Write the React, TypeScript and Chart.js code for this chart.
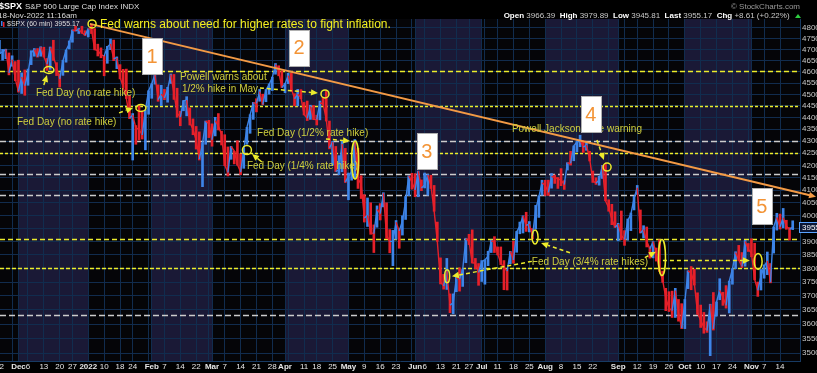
import React, { useEffect, useRef } from 'react';
import { Chart, registerables } from 'chart.js';

Chart.register(...registerables);

const FONT = '"Liberation Sans", Arial, Helvetica, sans-serif';
const BLUE = '#3d84e8';
const RED = '#e6202a';
const YELLOW = '#ecec2c';
const OLIVE = '#cfcf3e';
const GRAYLINE = '#cccccc';
const GRID = '#112c4e';
const W = 817;
const H = 373;

// ---- calendar ----
const FIRST_DAY = '2021-11-22';
const LAST_DAY = '2022-11-18';
const holidays = ['2021-11-25', '2021-12-24', '2022-01-17', '2022-02-21', '2022-04-15', '2022-05-30', '2022-06-20', '2022-07-04', '2022-09-05'];

// ---- price data (one value per trading day) ----
const closes = [
  4682, 4690, 4701, 4595, 4655, 4567,
  4513, 4577, 4538, 4592, 4686, 4701, 4667, 4712, 4669, 4634, 4710, 4669, 4621, 4568, 4649, 4697, 4726, 4791, 4786, 4793, 4778, 4766,
  4797, 4794, 4701, 4696, 4677, 4670, 4713, 4726, 4659, 4663, 4577, 4533, 4483, 4398, 4410, 4356, 4350, 4326, 4432, 4516,
  4546, 4589, 4477, 4501, 4484, 4522, 4587, 4504, 4419, 4402, 4472, 4475, 4380, 4349, 4305, 4226, 4289, 4385, 4374,
  4306, 4387, 4363, 4329, 4201, 4171, 4278, 4260, 4204, 4173, 4262, 4358, 4412, 4463, 4461, 4512, 4456, 4520, 4543, 4575, 4632, 4602, 4530,
  4546, 4583, 4525, 4481, 4500, 4488, 4413, 4397, 4447, 4392, 4391, 4463, 4459, 4393, 4272, 4296, 4175, 4183, 4288, 4132,
  4155, 4175, 4300, 4147, 4123, 3991, 4001, 3935, 3930, 4024, 4008, 4088, 3923, 3901, 3901, 3974, 3941, 3979, 4058, 4158, 4132,
  4101, 4177, 4109, 4121, 4161, 4116, 4018, 3901, 3750, 3735, 3790, 3667, 3675, 3765, 3760, 3796, 3912, 3900, 3821, 3819, 3785,
  3825, 3831, 3845, 3903, 3899, 3855, 3819, 3802, 3790, 3863, 3831, 3937, 3959, 3999, 3962, 3967, 3921, 4024, 4073, 4130,
  4119, 4091, 4155, 4152, 4145, 4140, 4122, 4210, 4208, 4280, 4297, 4305, 4275, 4284, 4228, 4138, 4128, 4141, 4199, 4058, 4031, 3986, 3955,
  3967, 3924, 3908, 3980, 4006, 4067, 4110, 3933, 3946, 3901, 3873, 3900, 3856, 3790, 3758, 3693, 3655, 3647, 3719, 3640, 3586,
  3678, 3791, 3783, 3745, 3640, 3612, 3589, 3577, 3670, 3583, 3678, 3720, 3695, 3666, 3753, 3797, 3859, 3831, 3807, 3901, 3872,
  3856, 3760, 3720, 3771, 3807, 3828, 3749, 3956, 3993, 3957, 3992, 3959, 3947, 3955.17,
];
const highs = [
  4743, 4701, 4702, 4685, 4672, 4646,
  4652, 4595, 4608, 4612, 4695, 4705, 4705, 4713, 4711, 4660, 4712, 4743, 4641, 4591, 4651, 4698, 4740, 4791, 4808, 4798, 4808, 4787,
  4796, 4818, 4797, 4725, 4708, 4673, 4715, 4749, 4744, 4667, 4632, 4611, 4612, 4494, 4417, 4366, 4453, 4428, 4432, 4516,
  4546, 4595, 4542, 4540, 4522, 4531, 4590, 4588, 4527, 4427, 4473, 4490, 4441, 4394, 4362, 4339, 4294, 4385, 4388,
  4373, 4401, 4417, 4342, 4327, 4276, 4278, 4258, 4302, 4247, 4271, 4358, 4412, 4465, 4481, 4522, 4501, 4521, 4546, 4576, 4637, 4627, 4604,
  4549, 4593, 4593, 4503, 4522, 4521, 4465, 4471, 4453, 4452, 4410, 4471, 4488, 4513, 4385, 4299, 4278, 4240, 4300, 4270,
  4169, 4200, 4307, 4270, 4158, 4082, 4069, 4050, 3964, 4038, 4047, 4090, 4050, 3946, 3943, 3981, 3950, 3999, 4075, 4158, 4168,
  4166, 4177, 4141, 4169, 4164, 4160, 4119, 3975, 3839, 3778, 3837, 3707, 3707, 3779, 3802, 3797, 3913, 3928, 3945, 3837, 3818,
  3829, 3832, 3864, 3906, 3919, 3880, 3880, 3829, 3796, 3863, 3902, 3939, 3975, 3999, 4013, 3977, 3950, 4040, 4078, 4140,
  4140, 4140, 4167, 4161, 4151, 4187, 4138, 4211, 4258, 4280, 4301, 4325, 4302, 4293, 4258, 4177, 4150, 4156, 4200, 4204, 4062, 4044, 4015,
  3970, 4018, 3942, 3987, 4010, 4076, 4119, 4022, 3961, 3956, 3880, 3900, 3876, 3907, 3790, 3727, 3715, 3717, 3727, 3687, 3672,
  3687, 3791, 3807, 3797, 3711, 3667, 3641, 3608, 3670, 3712, 3678, 3762, 3713, 3737, 3753, 3799, 3862, 3886, 3859, 3905, 3893,
  3911, 3894, 3750, 3796, 3813, 3861, 3818, 3956, 4009, 4006, 4028, 3982, 3954, 3979.89,
];
const lows = [
  4682, 4652, 4659, 4586, 4625, 4560,
  4510, 4504, 4496, 4540, 4632, 4670, 4666, 4670, 4667, 4606, 4611, 4651, 4583, 4532, 4584, 4643, 4703, 4734, 4786, 4774, 4775, 4765,
  4758, 4774, 4699, 4671, 4663, 4582, 4638, 4700, 4650, 4614, 4568, 4530, 4482, 4395, 4222, 4287, 4305, 4309, 4264, 4414,
  4483, 4545, 4470, 4451, 4477, 4466, 4548, 4478, 4401, 4365, 4429, 4407, 4368, 4327, 4267, 4222, 4114, 4287, 4315,
  4279, 4322, 4347, 4284, 4199, 4157, 4225, 4206, 4201, 4162, 4188, 4287, 4333, 4392, 4424, 4470, 4455, 4468, 4501, 4517, 4589, 4582, 4530,
  4507, 4547, 4514, 4450, 4450, 4481, 4411, 4387, 4392, 4391, 4368, 4390, 4453, 4385, 4268, 4201, 4175, 4162, 4174, 4131,
  4062, 4140, 4146, 4107, 4067, 3975, 3958, 3928, 3859, 3955, 3983, 4034, 3912, 3858, 3810, 3909, 3875, 3925, 3985, 4078, 4104,
  4074, 4074, 4098, 4109, 4080, 4107, 4017, 3901, 3743, 3724, 3723, 3640, 3636, 3715, 3717, 3734, 3821, 3889, 3820, 3799, 3738,
  3752, 3742, 3810, 3859, 3859, 3850, 3814, 3722, 3721, 3817, 3819, 3860, 3930, 3933, 3939, 3937, 3910, 3948, 3993, 4080,
  4079, 4079, 4108, 4127, 4107, 4118, 4103, 4181, 4201, 4219, 4256, 4277, 4253, 4262, 4218, 4131, 4123, 4120, 4147, 4058, 4017, 3965, 3954,
  3903, 3907, 3886, 3906, 3942, 4022, 4083, 3933, 3914, 3880, 3838, 3839, 3827, 3789, 3749, 3647, 3644, 3623, 3623, 3610, 3584,
  3584, 3726, 3722, 3739, 3634, 3588, 3568, 3571, 3491, 3579, 3628, 3686, 3666, 3656, 3639, 3742, 3799, 3829, 3803, 3808, 3863,
  3843, 3758, 3698, 3721, 3764, 3777, 3747, 3857, 3944, 3948, 3953, 3947, 3906, 3945.81,
];

// ---- axes ----
const yTickValues = [3500, 3550, 3600, 3650, 3700, 3750, 3800, 3850, 3900, 3950, 4000, 4050, 4100, 4150, 4200, 4250, 4300, 4350, 4400, 4450, 4500, 4550, 4600, 4650, 4700, 4750, 4800];
const xTickLabels: [string, string][] = [
  ['2021-11-22', '22'], ['2021-12-01', 'Dec'], ['2021-12-06', '6'], ['2021-12-13', '13'], ['2021-12-20', '20'], ['2021-12-27', '27'],
  ['2022-01-03', '2022'], ['2022-01-10', '10'], ['2022-01-18', '18'], ['2022-01-24', '24'],
  ['2022-02-01', 'Feb'], ['2022-02-07', '7'], ['2022-02-14', '14'], ['2022-02-22', '22'],
  ['2022-03-01', 'Mar'], ['2022-03-07', '7'], ['2022-03-14', '14'], ['2022-03-21', '21'], ['2022-03-28', '28'],
  ['2022-04-01', 'Apr'], ['2022-04-11', '11'], ['2022-04-18', '18'], ['2022-04-25', '25'],
  ['2022-05-02', 'May'], ['2022-05-09', '9'], ['2022-05-16', '16'], ['2022-05-23', '23'],
  ['2022-06-01', 'Jun'], ['2022-06-06', '6'], ['2022-06-13', '13'], ['2022-06-21', '21'], ['2022-06-27', '27'],
  ['2022-07-01', 'Jul'], ['2022-07-11', '11'], ['2022-07-18', '18'], ['2022-07-25', '25'],
  ['2022-08-01', 'Aug'], ['2022-08-08', '8'], ['2022-08-15', '15'], ['2022-08-22', '22'],
  ['2022-09-01', 'Sep'], ['2022-09-12', '12'], ['2022-09-19', '19'], ['2022-09-26', '26'],
  ['2022-10-03', 'Oct'], ['2022-10-10', '10'], ['2022-10-17', '17'], ['2022-10-24', '24'],
  ['2022-11-01', 'Nov'], ['2022-11-07', '7'], ['2022-11-14', '14'],
];
const boldLabels = ['Dec', '2022', 'Feb', 'Mar', 'Apr', 'May', 'Jun', 'Jul', 'Aug', 'Sep', 'Oct', 'Nov'];
const shadedMonths = ['2021-12', '2022-02', '2022-04', '2022-06', '2022-08', '2022-10'];

// ---- header ----
const quoteFields: [string, string][] = [['Open', '3966.39'], ['High', '3979.89'], ['Low', '3945.81'], ['Last', '3955.17'], ['Chg', '+8.61 (+0.22%)']];

// ---- annotations (x in trading-day index, y in index points) ----
const levels = [
  { value: 4605, color: YELLOW, dash: [5, 3] },
  { value: 4450, color: YELLOW, dash: [3, 2] },
  { value: 4300, color: GRAYLINE, dash: [6, 3] },
  { value: 4250, color: YELLOW, dash: [3, 2] },
  { value: 4163, color: GRAYLINE, dash: [6, 3] },
  { value: 4081, color: GRAYLINE, dash: [6, 3] },
  { value: 3911, color: YELLOW, dash: [5, 3] },
  { value: 3800, color: YELLOW, dash: [4, 2] },
  { value: 3632, color: GRAYLINE, dash: [6, 3] },
];
const trendFrom = [28.5, 4819];
const trendTo = [256.4, 4077];
const notes = [
  { text: 'Fed warns about need for higher rates to fight inflation.', i: 31.7, v: 4814, size: 12, color: '#f4f020' },
  { text: 'Fed Day (no rate hike)', i: 11.5, v: 4506, size: 10, color: OLIVE },
  { text: 'Fed Day (no rate hike)', i: 5.5, v: 4381, size: 10, color: OLIVE },
  { text: 'Powell warns about', i: 56.9, v: 4577, size: 10, color: OLIVE },
  { text: '1/2% hike in May', i: 57.5, v: 4524, size: 10, color: OLIVE },
  { text: 'Fed Day (1/2% rate hike)', i: 81.2, v: 4334, size: 10, color: OLIVE },
  { text: 'Fed Day (1/4% rate hike)', i: 78.0, v: 4198, size: 10, color: OLIVE },
  { text: 'Powell Jackson Hole warning', i: 161.5, v: 4351, size: 10, color: OLIVE },
  { text: 'Fed Day (3/4% rate hikes)', i: 167.8, v: 3822, size: 10, color: OLIVE },
];
const numberBoxes = [
  { label: '1', i: 48.1, v: 4671 },
  { label: '2', i: 94.4, v: 4708 },
  { label: '3', i: 134.7, v: 4259 },
  { label: '4', i: 186.4, v: 4415 },
  { label: '5', i: 240.3, v: 4037 },
];
const rings = [
  { i: 29.2, v: 4819, rx: 4, ry: 4 },
  { i: 15.6, v: 4608, rx: 5, ry: 3.5 },
  { i: 44.6, v: 4441, rx: 5, ry: 3.5 },
  { i: 78.0, v: 4263, rx: 4.5, ry: 4.5 },
  { i: 102.6, v: 4502, rx: 4, ry: 4 },
  { i: 112.1, v: 4222, rx: 3.5, ry: 19 },
  { i: 141.1, v: 3771, rx: 2.5, ry: 6.5 },
  { i: 168.8, v: 3918, rx: 3, ry: 7 },
  { i: 191.5, v: 4193, rx: 4, ry: 4 },
  { i: 208.8, v: 3840, rx: 3.5, ry: 18 },
  { i: 239.1, v: 3826, rx: 4, ry: 8 },
];
const arrows = [
  { from: [14.0, 4541], to: [15.0, 4586], dashed: false },
  { from: [37.7, 4420], to: [42.1, 4441], dashed: true },
  { from: [82.7, 4214], to: [79.6, 4247], dashed: false },
  { from: [82.1, 4528], to: [100.4, 4506], dashed: true },
  { from: [102.9, 4309], to: [110.5, 4301], dashed: true },
  { from: [167.8, 3826], to: [142.6, 3771], dashed: true },
  { from: [179.8, 3858], to: [170.7, 3895], dashed: true },
  { from: [188.3, 4305], to: [190.5, 4222], dashed: true },
  { from: [203.4, 3840], to: [206.9, 3862], dashed: true },
  { from: [209.1, 3829], to: [236.5, 3829], dashed: true },
];

function tradingDays(): string[] {
  const out: string[] = [];
  const d = new Date(FIRST_DAY + 'T12:00:00Z');
  const end = new Date(LAST_DAY + 'T12:00:00Z');
  while (d <= end) {
    const dow = d.getUTCDay();
    const s = d.toISOString().slice(0, 10);
    if (dow !== 0 && dow !== 6 && !holidays.includes(s)) out.push(s);
    d.setUTCDate(d.getUTCDate() + 1);
  }
  return out;
}

function drawArrow(ctx: CanvasRenderingContext2D, x1: number, y1: number, x2: number, y2: number, dashed: boolean) {
  const ang = Math.atan2(y2 - y1, x2 - x1);
  const L = 7;
  const hw = 3.2;
  const bx = x2 - L * Math.cos(ang);
  const by = y2 - L * Math.sin(ang);
  ctx.setLineDash(dashed ? [4, 3] : []);
  ctx.beginPath();
  ctx.moveTo(x1, y1);
  ctx.lineTo(bx, by);
  ctx.stroke();
  ctx.setLineDash([]);
  ctx.beginPath();
  ctx.moveTo(x2, y2);
  ctx.lineTo(bx + hw * Math.sin(ang), by - hw * Math.cos(ang));
  ctx.lineTo(bx - hw * Math.sin(ang), by + hw * Math.cos(ang));
  ctx.closePath();
  ctx.fill();
}

export default function App() {
  const ref = useRef<HTMLCanvasElement>(null);

  useEffect(() => {
    document.body.style.margin = '0';
    const days = tradingDays();
    const labelMap = new Map<number, string>();
    xTickLabels.forEach(([d, l]) => {
      const i = days.indexOf(d);
      if (i >= 0) labelMap.set(i, l);
    });
    const gridIdx: number[] = [];
    days.forEach((d, i) => {
      if (i === 0) { gridIdx.push(0); return; }
      const prev = new Date(days[i - 1] + 'T12:00:00Z');
      const cur = new Date(d + 'T12:00:00Z');
      const newWeek = cur.getUTCDay() < prev.getUTCDay() || cur.getTime() - prev.getTime() > 4 * 86400000;
      const newMonth = d.slice(0, 7) !== days[i - 1].slice(0, 7);
      if (newWeek || newMonth || labelMap.has(i)) gridIdx.push(i);
    });
    const bands = shadedMonths.map((m) => {
      const s = days.findIndex((d) => d.startsWith(m));
      let e = days.findIndex((d, i) => i > s && !d.startsWith(m));
      if (e < 0) e = days.length;
      return [s, e];
    });

    const barColors = closes.map((c, i) => (i === 0 || c >= closes[i - 1] ? BLUE : RED));

    const bgPlugin = {
      id: 'bgBands',
      beforeDraw(chart: any) {
        const { ctx, chartArea: a, scales } = chart;
        ctx.save();
        ctx.fillStyle = '#000000';
        ctx.fillRect(0, 0, chart.width, chart.height);
        ctx.fillStyle = '#050508';
        ctx.fillRect(a.left, a.top, a.right - a.left, a.bottom - a.top);
        ctx.fillStyle = '#1a1936';
        for (const [s, e] of bands) {
          const x1 = Math.max(a.left, scales.x.getPixelForValue(s));
          const x2 = Math.min(a.right, scales.x.getPixelForValue(e));
          if (x2 > x1) ctx.fillRect(x1, a.top, x2 - x1, a.bottom - a.top);
        }
        ctx.restore();
      },
      beforeDatasetsDraw(chart: any) {
        const { ctx, chartArea: a, scales } = chart;
        ctx.save();
        ctx.lineWidth = 1.5;
        for (const l of levels) {
          const y = Math.round(scales.y.getPixelForValue(l.value)) + 0.5;
          ctx.strokeStyle = l.color;
          ctx.setLineDash(l.dash);
          ctx.beginPath();
          ctx.moveTo(a.left, y);
          ctx.lineTo(a.right, y);
          ctx.stroke();
        }
        ctx.restore();
      },
      afterDatasetsDraw(chart: any) {
        const { ctx, scales } = chart;
        const px = (i: number) => scales.x.getPixelForValue(i);
        const py = (v: number) => scales.y.getPixelForValue(v);
        ctx.save();
        // trend line
        ctx.strokeStyle = '#f39a45';
        ctx.fillStyle = '#f39a45';
        ctx.lineWidth = 2;
        const tx1 = px(trendFrom[0]), ty1 = py(trendFrom[1]);
        const tx2 = px(trendTo[0]), ty2 = py(trendTo[1]);
        ctx.beginPath();
        ctx.moveTo(tx1, ty1);
        ctx.lineTo(tx2, ty2);
        ctx.stroke();
        ctx.lineWidth = 1;
        drawArrow(ctx, tx2 - 10, ty2 - 10 * (ty2 - ty1) / (tx2 - tx1), tx2 + 3, ty2 + 3 * (ty2 - ty1) / (tx2 - tx1), false);
        // rings
        ctx.strokeStyle = YELLOW;
        ctx.lineWidth = 1.5;
        for (const r of rings) {
          ctx.beginPath();
          ctx.ellipse(px(r.i), py(r.v), r.rx, r.ry, 0, 0, Math.PI * 2);
          ctx.stroke();
        }
        // arrows
        ctx.fillStyle = YELLOW;
        ctx.strokeStyle = YELLOW;
        ctx.lineWidth = 1.5;
        for (const a of arrows) {
          drawArrow(ctx, px(a.from[0]), py(a.from[1]), px(a.to[0]), py(a.to[1]), a.dashed);
        }
        // notes
        ctx.textBaseline = 'middle';
        ctx.textAlign = 'left';
        for (const n of notes) {
          ctx.font = `${n.size}px ${FONT}`;
          ctx.fillStyle = n.color;
          ctx.fillText(n.text, px(n.i), py(n.v));
        }
        // number boxes
        for (const b of numberBoxes) {
          const cx = px(b.i), cy = py(b.v);
          ctx.fillStyle = '#ffffff';
          ctx.fillRect(Math.round(cx - 10), Math.round(cy - 18), 20, 36);
          ctx.strokeStyle = '#b0b0b0';
          ctx.lineWidth = 1;
          ctx.strokeRect(Math.round(cx - 10) + 0.5, Math.round(cy - 18) + 0.5, 20, 36);
          ctx.fillStyle = '#f39436';
          ctx.font = `20px ${FONT}`;
          ctx.textAlign = 'center';
          ctx.fillText(b.label, cx, cy + 1);
          ctx.textAlign = 'left';
        }
        ctx.restore();
      },
      afterDraw(chart: any) {
        const { ctx, scales } = chart;
        ctx.save();
        ctx.textBaseline = 'middle';
        ctx.textAlign = 'left';
        // title
        ctx.font = `bold 9px ${FONT}`;
        ctx.fillStyle = '#ffffff';
        ctx.fillText('$SPX', -1, 7);
        const tw = ctx.measureText('$SPX').width;
        ctx.font = `8px ${FONT}`;
        ctx.fillStyle = '#dddddd';
        ctx.fillText('S&P 500 Large Cap Index INDX', tw + 2, 7);
        ctx.fillText('18-Nov-2022 11:16am', -2, 16);
        // right header
        ctx.textAlign = 'right';
        ctx.fillStyle = '#9a9a9a';
        ctx.fillText('\u00a9 StockCharts.com', 800, 7);
        ctx.textAlign = 'left';
        const boldF = `bold 8px ${FONT}`;
        const normF = `8px ${FONT}`;
        let total = 0;
        for (const [k, v] of quoteFields) {
          ctx.font = boldF; total += ctx.measureText(k + ' ').width;
          ctx.font = normF; total += ctx.measureText(v + '  ').width;
        }
        let x = 794 - total;
        for (const [k, v] of quoteFields) {
          ctx.font = boldF; ctx.fillStyle = '#ffffff';
          ctx.fillText(k + ' ', x, 16); x += ctx.measureText(k + ' ').width;
          ctx.font = normF; ctx.fillStyle = '#c8c8c8';
          ctx.fillText(v + '  ', x, 16); x += ctx.measureText(v + '  ').width;
        }
        ctx.fillStyle = '#2ecc40';
        ctx.beginPath();
        ctx.moveTo(795, 18); ctx.lineTo(801, 18); ctx.lineTo(798, 14); ctx.closePath(); ctx.fill();
        // legend
        ctx.fillStyle = BLUE; ctx.fillRect(1, 21, 1.5, 5);
        ctx.fillStyle = RED; ctx.fillRect(3, 22, 1.5, 5);
        ctx.font = `7px ${FONT}`;
        ctx.fillStyle = '#dddddd';
        ctx.fillText('$SPX (60 min) ' + closes[closes.length - 1].toFixed(2), 7, 24);
        // last price tag
        const ly = scales.y.getPixelForValue(closes[closes.length - 1]);
        ctx.fillStyle = '#0b1736';
        ctx.fillRect(799, ly - 5, 18, 10);
        ctx.strokeStyle = '#5aa2ff';
        ctx.lineWidth = 1;
        ctx.strokeRect(799.5, Math.round(ly - 5) + 0.5, 18, 10);
        ctx.font = `8px ${FONT}`;
        ctx.fillStyle = '#ffffff';
        ctx.fillText(String(Math.floor(closes[closes.length - 1])), 802, ly + 0.5);
        ctx.restore();
      },
    };

    const chart = new Chart(ref.current as HTMLCanvasElement, {
      type: 'line',
      data: {
        datasets: [
          {
            type: 'bar',
            data: lows.map((l, i) => ({ x: i, y: [l, highs[i]] })) as any,
            backgroundColor: barColors,
            borderWidth: 0,
            barThickness: 2,
            grouped: false,
            order: 2,
          } as any,
          {
            type: 'line',
            data: closes.map((c, i) => ({ x: i, y: c })),
            borderColor: BLUE,
            borderWidth: 1.4,
            pointRadius: 0,
            tension: 0,
            order: 1,
            segment: {
              borderColor: (c: any) => (c.p1.parsed.y >= c.p0.parsed.y ? BLUE : RED),
            },
          } as any,
        ],
      },
      options: {
        responsive: false,
        animation: false,
        devicePixelRatio: 1,
        layout: { padding: { top: 19, left: 0, right: 0, bottom: 0 } },
        plugins: { legend: { display: false }, tooltip: { enabled: false }, title: { display: false } },
        scales: {
          x: {
            type: 'linear',
            min: 0.18,
            max: 252.3,
            bounds: 'data',
            offset: false,
            afterBuildTicks: (s: any) => { s.ticks = gridIdx.map((v) => ({ value: v })); },
            afterFit: (s: any) => { s.height = 12; s.paddingLeft = 0; s.paddingRight = 0; },
            ticks: {
              autoSkip: false,
              maxRotation: 0,
              minRotation: 0,
              padding: 1,
              color: '#e6e6e6',
              font: (c: any) => ({ family: FONT, size: 8, weight: boldLabels.includes(labelMap.get(c.tick ? c.tick.value : -1) || '') ? 'bold' : 'normal' }),
              callback: (v: any) => labelMap.get(v) || '',
            },
            grid: { color: GRID, lineWidth: 1, drawTicks: false, offset: false },
            border: { color: '#173a62' },
          } as any,
          y: {
            type: 'logarithmic',
            position: 'right',
            min: 3473,
            max: 4842,
            bounds: 'data',
            afterBuildTicks: (s: any) => { s.ticks = yTickValues.map((v) => ({ value: v })); },
            afterFit: (s: any) => { s.width = 17; s.paddingTop = 0; s.paddingBottom = 0; },
            ticks: {
              autoSkip: false,
              padding: 2,
              color: '#c8c8c8',
              font: { family: FONT, size: 8 },
              callback: (v: any) => String(v),
            },
            grid: { color: GRID, lineWidth: 1, drawTicks: false },
            border: { color: '#173a62' },
          } as any,
        },
      },
      plugins: [bgPlugin],
    } as any);

    return () => chart.destroy();
  }, []);

  return (
    <div style={{ position: 'fixed', left: 0, top: 0, width: W, height: H, background: '#000' }}>
      <canvas ref={ref} width={W} height={H} style={{ display: 'block', width: W, height: H }} />
    </div>
  );
}
